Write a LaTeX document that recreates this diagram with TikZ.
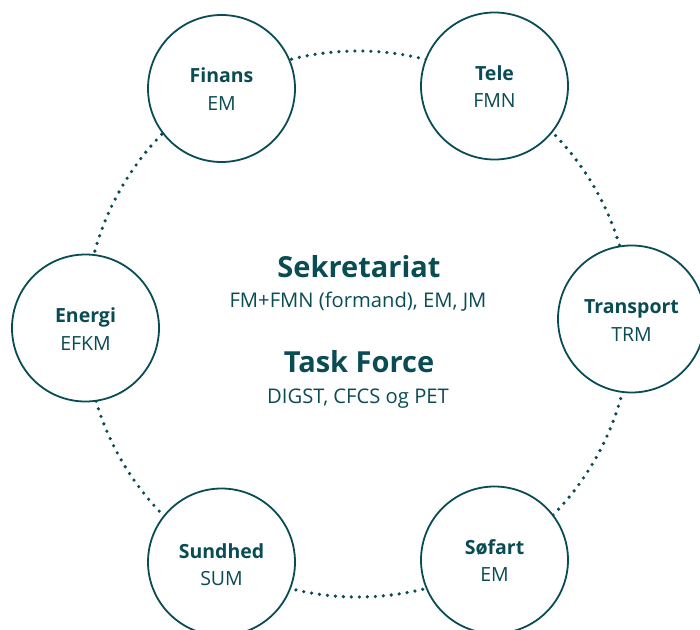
\documentclass[tikz,border=0pt]{standalone}
\usepackage{fontspec}
\setmainfont{Open Sans}
\definecolor{ink}{RGB}{10,76,84}
\begin{document}
\begin{tikzpicture}[x=1pt,y=-1pt,
  unit/.style={circle,draw=ink,line width=1.8pt,fill=white,minimum size=147pt,inner sep=0pt},
  head/.style={anchor=base,text=ink,font=\bfseries\fontsize{19.5}{21}\selectfont,inner sep=0pt},
  sub/.style={anchor=base,text=ink,font=\fontsize{19.5}{21}\selectfont,inner sep=0pt},
  csub/.style={anchor=base,text=ink,font=\fontsize{20.2}{22}\selectfont,inner sep=0pt},
  title/.style={anchor=base,text=ink,font=\bfseries\fontsize{29}{32}\selectfont,inner sep=0pt},
  dotline/.style={draw=ink,line width=3.6pt,line cap=round,dash pattern=on 0pt off 8pt}]
\useasboundingbox (0,0) rectangle (700,629);
\coordinate (c) at (358,324);
\draw[dotline] (c) circle[radius=273pt];
% units
\node[unit] (fin) at (221.5,88.5) {};
\node[unit] (tel) at (494.5,86) {};
\node[unit] (tra) at (631.5,319) {};
\node[unit] (sof) at (494.5,560) {};
\node[unit] (sun) at (221.5,562) {};
\node[unit] (ene) at (85.5,328) {};
% labels
\node[head] (fin-h) at (221.5,82) {Finans};
\node[sub]  (fin-s) at (221.5,110) {EM};
\node[head] (tel-h) at (494.5,80) {Tele};
\node[sub]  (tel-s) at (494.5,107) {FMN};
\node[head] (tra-h) at (631.5,313) {Transport};
\node[sub]  (tra-s) at (631.5,341) {TRM};
\node[head] (sof-h) at (494.5,554) {Søfart};
\node[sub]  (sof-s) at (494.5,581) {EM};
\node[head] (sun-h) at (221.5,558) {Sundhed};
\node[sub]  (sun-s) at (221.5,585) {SUM};
\node[head] (ene-h) at (85.5,322) {Energi};
\node[sub]  (ene-s) at (85.5,350) {EFKM};
% centre
\node[title] (sek) at (359,277) {Sekretariat};
\node[csub]  (sek-s) at (358,307) {FM+FMN (formand), EM, JM};
\node[title] (tf) at (359,372) {Task Force};
\node[csub]  (tf-s) at (358,403) {DIGST, CFCS og PET};
\end{tikzpicture}
\end{document}
